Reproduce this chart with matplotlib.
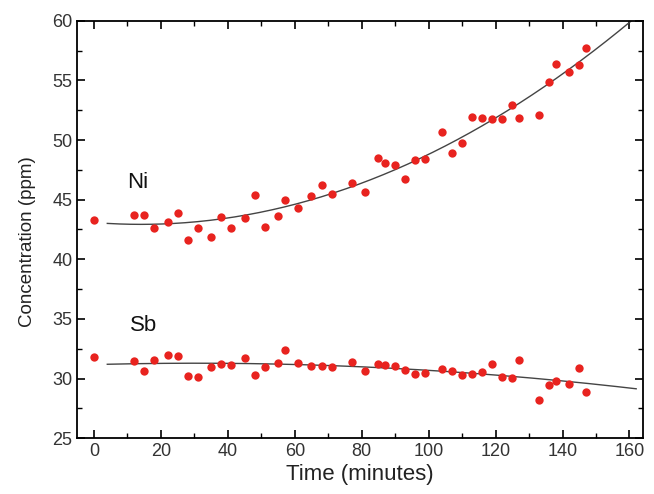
import numpy as np
import matplotlib
matplotlib.use('Agg')
import matplotlib.pyplot as plt
from matplotlib.ticker import MultipleLocator

plt.rcParams['font.family'] = ['Liberation Sans', 'DejaVu Sans']

# sampling times (minutes), shared by both elements
time_min = [0, 12, 15, 18, 22, 25, 28, 31, 35, 38,
            41, 45, 48, 51, 55, 57, 61, 65, 68, 71,
            77, 81, 85, 87, 90, 93, 96, 99, 104, 107,
            110, 113, 116, 119, 122, 125, 127, 133, 136, 138,
            142, 145, 147]

ni_ppm = [43.3, 43.7, 43.7, 42.65, 43.15, 43.9, 41.65, 42.6, 41.9, 43.55,
          42.6, 43.45, 45.35, 42.7, 43.6, 44.97, 44.3, 45.3, 46.2, 45.5,
          46.4, 45.6, 48.45, 48.07, 47.9, 46.73, 48.35, 48.4, 50.7, 48.9,
          49.75, 51.95, 51.84, 51.76, 51.76, 52.93, 51.84, 52.06, 54.89, 56.37,
          55.73, 56.29, 57.71]

sb_ppm = [31.81, 31.45, 30.66, 31.53, 32.0, 31.89, 30.22, 30.1, 30.97, 31.19,
          31.14, 31.75, 30.33, 30.94, 31.31, 32.36, 31.28, 31.03, 31.06, 30.94,
          31.42, 30.66, 31.25, 31.17, 31.03, 30.75, 30.39, 30.47, 30.8, 30.66,
          30.3, 30.39, 30.55, 31.22, 30.16, 30.05, 31.58, 28.17, 29.46, 29.82,
          29.57, 30.91, 28.85]

fig = plt.figure(figsize=(6.54, 4.94), dpi=100)
ax = fig.add_axes([0.118, 0.113, 0.865, 0.845])

t = np.array(time_min)
t_fit = np.linspace(4, 162, 300)
for vals, label, lx, ly in [(ni_ppm, 'Ni', 10, 46.0), (sb_ppm, 'Sb', 10.7, 34.0)]:
    # quadratic trend line through the measured points
    coef = np.polyfit(t, vals, 2)
    ax.plot(t_fit, np.polyval(coef, t_fit), color='#444444', lw=1.0, zorder=2)
    ax.plot(t, vals, 'o', color='#e8231f', ms=6, mec='none', zorder=3)
    ax.text(lx, ly, label, fontsize=16, color='#111111')

ax.set_xlim(-5, 164)
ax.set_ylim(25, 60)
ax.xaxis.set_major_locator(MultipleLocator(20))
ax.xaxis.set_minor_locator(MultipleLocator(10))
ax.yaxis.set_major_locator(MultipleLocator(5))
ax.yaxis.set_minor_locator(MultipleLocator(2.5))
ax.tick_params(which='both', direction='in', top=True, right=True,
               labelsize=13, labelcolor='#333333')
ax.tick_params(which='major', length=6, width=1.2)
ax.tick_params(which='minor', length=3.5, width=1.0)
for s in ax.spines.values():
    s.set_linewidth(1.3)

ax.set_xlabel('Time (minutes)', fontsize=16, color='#222222', labelpad=3)
ax.set_ylabel('Concentration (ppm)', fontsize=13.5, color='#222222')
ax.yaxis.set_label_coords(-0.072, 0.47)

fig.savefig('out.png', dpi=100)
